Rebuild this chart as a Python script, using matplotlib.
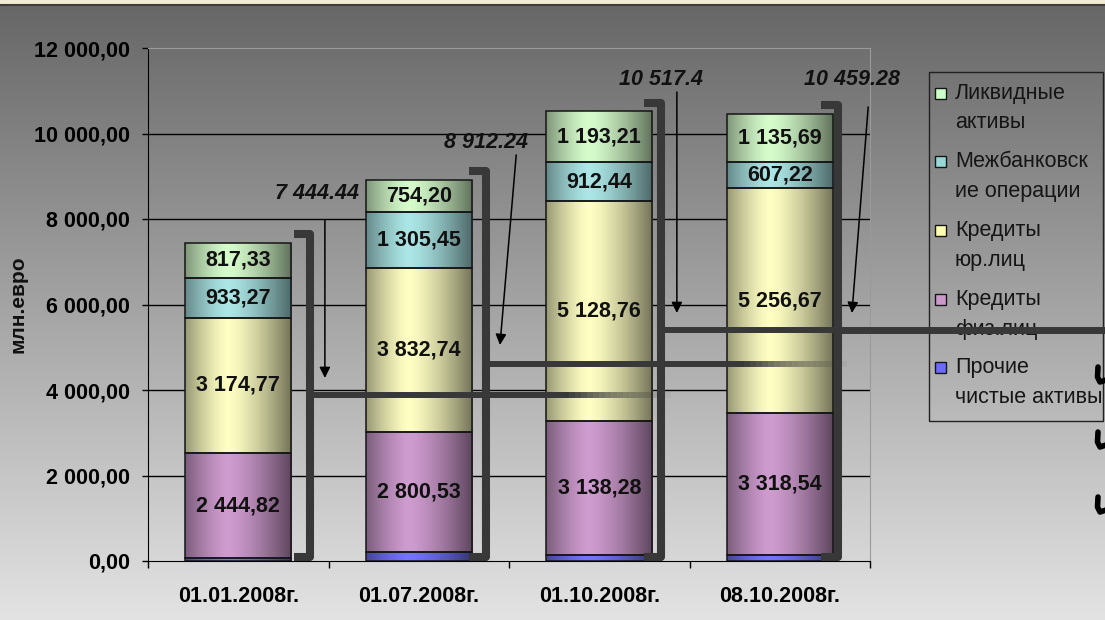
import numpy as np
import matplotlib.pyplot as plt
from matplotlib.patches import Rectangle
from matplotlib.collections import LineCollection
from matplotlib.lines import Line2D
from matplotlib.colors import to_rgb

plt.rcParams['font.family'] = ['Liberation Sans', 'DejaVu Sans']

# data
dates = ['01.01.2008г.', '01.07.2008г.', '01.10.2008г.', '08.10.2008г.']
series = ['Прочие\nчистые активы', 'Кредиты\nфиз.лиц', 'Кредиты\nюр.лиц',
          'Межбанковск\nие операции', 'Ликвидные\nактивы']
other = [74.25, 219.32, 144.71, 141.16]
loans_ind = [2444.82, 2800.53, 3138.28, 3318.54]
loans_corp = [3174.77, 3832.74, 5128.76, 5256.67]
interbank = [933.27, 1305.45, 912.44, 607.22]
liquid = [817.33, 754.20, 1193.21, 1135.69]
totals = [7444.44, 8912.24, 10517.4, 10459.28]
total_labels = ['7 444.44', '8 912.24', '10 517.4', '10 459.28']

stack = [other, loans_ind, loans_corp, interbank, liquid]
show_label = [False, True, True, True, True]
bar_colors = ['#7474ff', '#cf9ccf', '#ffffc4', '#ace6e6', '#d6fccc']
legend_colors = ['#6a6aff', '#cc99cc', '#ffffb0', '#99d6d6', '#ccffcc']

W, H = 1105, 620
fig = plt.figure(figsize=(W / 100, H / 100), dpi=100)

# background gradient
bg = fig.add_axes([0, 0, 1, 1], zorder=-10)
g = np.linspace(0.40, 0.89, 256)[:, None]
bg.imshow(np.dstack([g, g, g]), aspect='auto', extent=(0, 1, 0, 1))
bg.set_axis_off()
fig.add_artist(Rectangle((0, 1 - 4 / H), 1, 4 / H, color='#f3ead3',
                         transform=fig.transFigure, zorder=-5))
fig.add_artist(Line2D([0, 1], [1 - 4.5 / H] * 2, color='#3c3c3c', lw=1.5,
                      transform=fig.transFigure, zorder=-5))

ax = fig.add_axes([148 / W, 1 - 561 / H, (870 - 148) / W, (561 - 48) / H])
ax.patch.set_alpha(0)

x = np.arange(len(dates))
for yv in range(2000, 12000, 2000):
    ax.axhline(yv, color='black', lw=1, zorder=1)

# cylinder-like shading across each bar
xs = np.linspace(0, 1, 80)
shade = np.where(xs < 0.4, 1 - 0.40 * ((0.4 - xs) / 0.4) ** 1.4,
                 1 - 0.55 * ((xs - 0.4) / 0.6) ** 1.4)

def fmt(v):
    return f'{v:,.2f}'.replace(',', ' ').replace('.', ',')

bottom = np.zeros(len(dates))
for vals, col, lab in zip(stack, bar_colors, show_label):
    bars = ax.bar(x, vals, 0.59, bottom=bottom, color=col, zorder=3)
    base = np.array(to_rgb(col))
    rgb = np.clip(base[None, :] * shade[:, None], 0, 1)[None, :, :]
    for p in bars:
        x0, y0 = p.get_xy()
        im = ax.imshow(rgb, extent=(x0, x0 + p.get_width(), y0, y0 + p.get_height()),
                       aspect='auto', zorder=3.1, interpolation='bilinear')
        im.set_clip_path(p)
    ax.bar(x, vals, 0.59, bottom=bottom, fill=False, edgecolor='#151515', lw=1.1, zorder=3.2)
    if lab:
        for xi, b, v in zip(x, bottom, vals):
            ax.text(xi, b + v / 2, fmt(v), ha='center', va='center', fontsize=15.5,
                    fontweight='bold', color='#111111', zorder=4)
    bottom += np.array(vals)

# brackets with connecting lines
br_off = [0.40, 0.37, 0.34, 0.32]
line_len = [2.0, 2.0, 2.6, 1.5]
line_fade = [True, True, False, False]
hook = 0.09
for i, t in enumerate(totals):
    bx = x[i] + br_off[i]
    top, low = t + 200, 100
    ax.plot([bx - hook, bx, bx, bx - hook], [top, top, low, low], color='#383838',
            lw=5.8, solid_joinstyle='round', solid_capstyle='butt', zorder=5, clip_on=False)
    mid = (top + low) / 2
    n = 60
    px = np.linspace(bx, bx + line_len[i], n + 1)
    segs = [[(px[k], mid), (px[k + 1], mid)] for k in range(n)]
    alpha = np.ones(n)
    if line_fade[i]:
        alpha = np.clip((n - np.arange(n)) / (0.3 * n), 0, 1)
    cols = [(0.22, 0.22, 0.22, a) for a in alpha]
    ax.add_collection(LineCollection(segs, colors=cols, lw=4.3, zorder=5,
                                     capstyle='butt', clip_on=False))

# total annotations
label_pos = [(0.435, 8608), (0.37, 9778), (0.34, 11252), (0.40, 11252)]
arrow_from = [(0.48, 7977), (0.54, 9497), (0.43, 10971), (0.49, 10620)]
arrow_to = [(0.48, 4281), (0.45, 5053), (0.43, 5801), (0.40, 5801)]
for i, lab in enumerate(total_labels):
    ax.text(x[i] + label_pos[i][0], label_pos[i][1], lab, ha='center', va='center',
            fontsize=15.5, fontweight='bold', fontstyle='italic',
            color='#111111', zorder=6, clip_on=False)
    ax.annotate('', xy=(x[i] + arrow_to[i][0], arrow_to[i][1]),
                xytext=(x[i] + arrow_from[i][0], arrow_from[i][1]),
                arrowprops=dict(arrowstyle='-|>', color='black', lw=1.1,
                                mutation_scale=16, shrinkA=0, shrinkB=0),
                zorder=6, annotation_clip=False)

ax.set_xlim(-0.5, 3.5)
ax.set_ylim(0, 12000)
ax.set_yticks(range(0, 12001, 2000))
ax.set_yticklabels([fmt(v) for v in range(0, 12001, 2000)], fontsize=15.5,
                   fontweight='bold')
ax.tick_params(axis='y', length=4.3, width=1, pad=8.5, color='black')
ax.set_xticks(x)
ax.set_xticklabels(dates, fontsize=15.5, fontweight='bold')
ax.set_xticks(np.arange(-0.5, 4, 1), minor=True)
ax.tick_params(axis='x', which='major', length=0, pad=18)
ax.tick_params(axis='x', which='minor', length=5, width=1)
for s in ['left', 'bottom']:
    ax.spines[s].set_color('black')
for s in ['top', 'right']:
    ax.spines[s].set_color('#9a9a9a')

fig.text(18 / W, 1 - 304 / H, 'млн.евро', rotation=90, ha='center', va='center',
         fontsize=15, fontweight='bold', color='#111111')

# legend
fig.add_artist(Rectangle((929 / W, 1 - 421 / H), (1103 - 929) / W, (421 - 72) / H,
                         fill=False, edgecolor='#202020', lw=1,
                         transform=fig.transFigure, zorder=-1))
for k, (name, col) in enumerate(zip(series[::-1], legend_colors[::-1])):
    yc = 93 + 68.7 * k
    fig.add_artist(Rectangle((935 / W, 1 - (yc + 5.5) / H), 11 / W, 11 / H,
                             facecolor=col, edgecolor='#151515', lw=1,
                             transform=fig.transFigure, zorder=-1))
    for j, line in enumerate(name.split('\n')):
        fig.text(955 / W, 1 - (yc + 30 * j) / H, line, ha='left', va='center',
                 fontsize=15.5, color='#151515', zorder=-1)

# cut-off marks at the right edge
for yy in [367, 432, 497]:
    pts = np.array([(1098, yy), (1097.5, yy + 10), (1100, yy + 15), (1106, yy + 13)])
    fig.add_artist(Line2D(pts[:, 0] / W, 1 - pts[:, 1] / H, color='black', lw=4,
                          solid_capstyle='round', transform=fig.transFigure))

fig.savefig('out.png', dpi=100)
